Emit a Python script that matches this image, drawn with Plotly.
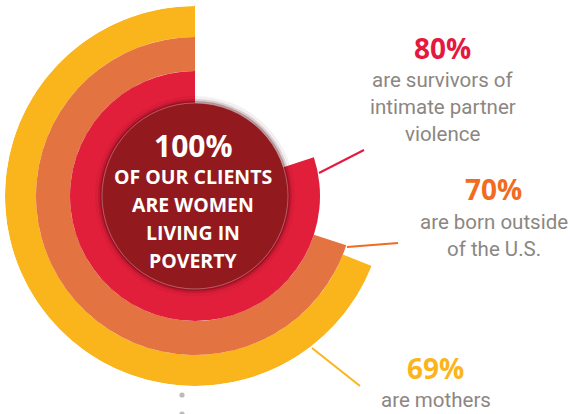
import plotly.graph_objects as go

W, H = 570, 414

# ---- data ----
ring_labels = ["are mothers", "are born outside of the U.S.", "are survivors of intimate partner violence"]
ring_values = [69, 70, 80]          # percent
ring_colors = ["#FBB51C", "#E37340", "#E11F3A"]
ring_inner = [159, 125, 80]          # radial positions (px-equivalent units)
ring_outer = [190, 159, 125]
pct_colors = ["#FBB51C", "#F26B21", "#E5193F"]

core_value = 100
core_lines = ["OF OUR CLIENTS", "ARE WOMEN", "LIVING IN", "POVERTY"]
core_radius = 93

label_lines = {
    80: ["are survivors of", "intimate partner", "violence"],
    70: ["are born outside", "of the U.S."],
    69: ["are mothers"],
}

CX, CY = 195, 196
R = 190


def X(px):
    return px / W


def Y(py):
    return 1 - py / H


fig = go.Figure()

for v, c, ri, ro in zip(ring_values, ring_colors, ring_inner, ring_outer):
    fig.add_trace(go.Barpolar(
        r=[ro - ri], base=[ri], theta=[v * 3.6 / 2], width=[v * 3.6],
        marker=dict(color=c, line=dict(width=0)), hoverinfo="skip", showlegend=False,
    ))

# soft shadow around the core
for dr, a in [(2, 0.28), (4, 0.14), (7, 0.06)]:
    fig.add_trace(go.Barpolar(
        r=[core_radius + dr], base=[0], theta=[180], width=[360],
        marker=dict(color=f"rgba(70,0,10,{a})", line=dict(width=0)),
        hoverinfo="skip", showlegend=False,
    ))

fig.add_trace(go.Barpolar(
    r=[core_radius], base=[0], theta=[core_value * 3.6 / 2], width=[core_value * 3.6],
    marker=dict(color="#921A1E", line=dict(width=0)), hoverinfo="skip", showlegend=False,
))

fig.update_layout(
    width=W, height=H,
    margin=dict(l=0, r=0, t=0, b=0),
    paper_bgcolor="white",
    plot_bgcolor="white",
    polar=dict(
        domain=dict(x=[X(CX - R), X(CX + R)], y=[Y(CY + R), Y(CY - R)]),
        bgcolor="rgba(0,0,0,0)",
        radialaxis=dict(range=[0, R], visible=False),
        angularaxis=dict(visible=False, rotation=90, direction="counterclockwise"),
        bargap=0,
    ),
)

shapes = []
# core outline
shapes.append(dict(type="circle", xref="paper", yref="paper",
                   x0=X(CX - core_radius), x1=X(CX + core_radius),
                   y0=Y(CY + core_radius), y1=Y(CY - core_radius),
                   line=dict(color="rgba(255,255,255,0.3)", width=1), layer="above"))
# leader lines
for (x0, y0, x1, y1), c in [((319, 173, 364, 150), "#E5193F"),
                             ((347, 247, 398, 243), "#F26B21"),
                             ((312, 348, 360, 386), "#FBB51C")]:
    shapes.append(dict(type="line", xref="paper", yref="paper",
                       x0=X(x0), y0=Y(y0), x1=X(x1), y1=Y(y1),
                       line=dict(color=c, width=2), layer="above"))
# decorative dots
for py in [395, 414]:
    shapes.append(dict(type="circle", xref="paper", yref="paper",
                       x0=X(182 - 2.6), x1=X(182 + 2.6), y0=Y(py + 2.6), y1=Y(py - 2.6),
                       fillcolor="#BDBAB8", line=dict(width=0), layer="above"))
fig.update_layout(shapes=shapes)

BOLD = "Open Sans"
GRAY_FONT = "Roboto"
GRAY = "#8C8682"

ann = []


def txt(s, px, py, size, color, family, bold=False):
    ann.append(dict(text=f"<b>{s}</b>" if bold else s, x=X(px), y=Y(py),
                    xref="paper", yref="paper", showarrow=False,
                    xanchor="center", yanchor="middle",
                    font=dict(size=size, color=color, family=family)))


# core text
txt(f"{core_value}%", 193, 145, 30, "white", BOLD, True)
for i, line in enumerate(core_lines):
    txt(line, 193, 176 + 28 * i, 19.5, "white", BOLD, True)

# right labels
pos = {80: (442, 48, 80), 70: (493, 189, 222), 69: (435, 368, 400)}
for v, pc in zip(ring_values, pct_colors):
    x, yp, y0 = pos[v]
    txt(f"{v}%", x, yp, 28, pc, BOLD, True)
    for j, line in enumerate(label_lines[v]):
        txt(line, x + 1, y0 + 27 * j, 20.5, GRAY, GRAY_FONT)

fig.update_layout(annotations=ann)
fig.write_html("out.html",
               config={"displayModeBar": False},
               post_script="document.body.style.margin='0';document.body.style.overflow='hidden';")
